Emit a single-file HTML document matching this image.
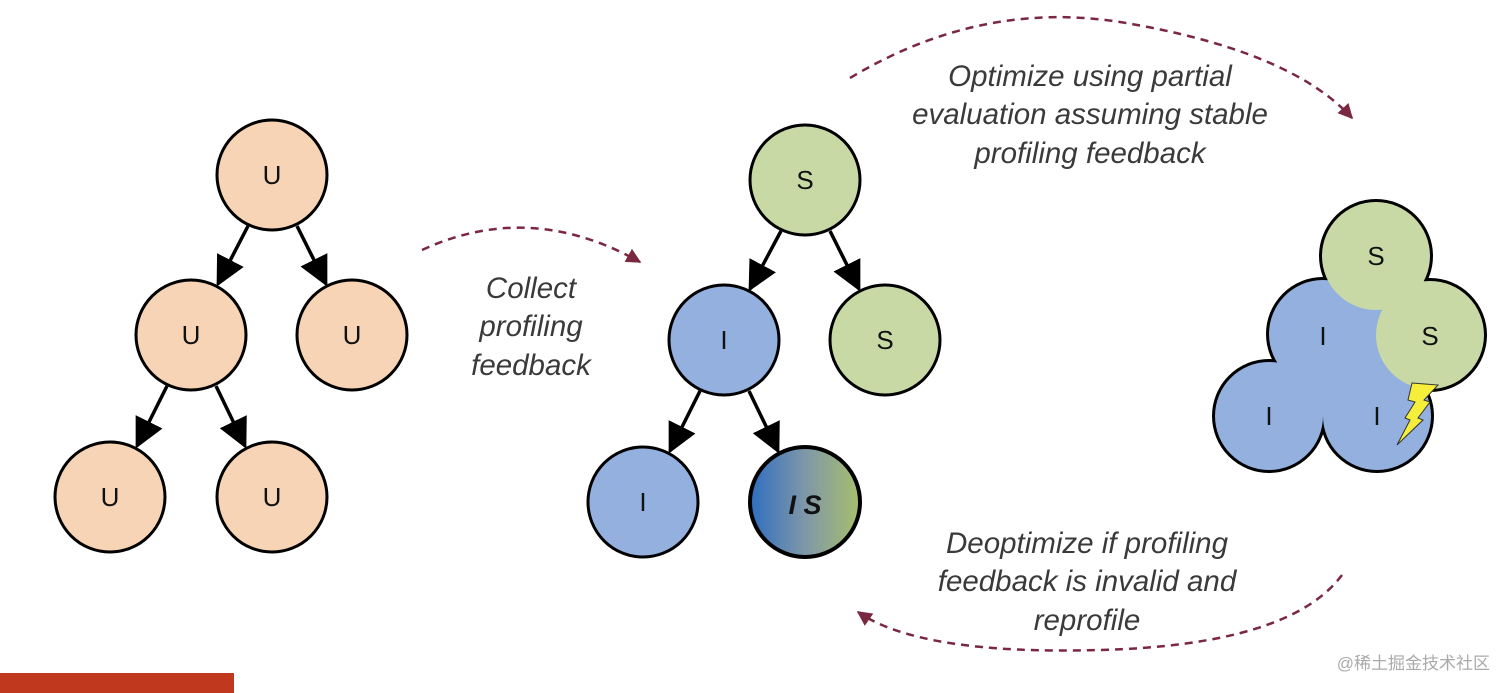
<!DOCTYPE html>
<html><head><style>
html,body{margin:0;padding:0;background:#fff;}
svg{display:block;}
text{font-family:"Liberation Sans",sans-serif;}
.t{font-style:italic;font-size:29.5px;fill:#3a3a3a;text-anchor:middle;}
.n{font-size:26px;fill:#111;text-anchor:middle;dominant-baseline:central;}
</style></head><body>
<svg width="1512" height="693" viewBox="0 0 1512 693" xmlns="http://www.w3.org/2000/svg">
<defs>
<marker id="a" viewBox="0 0 10 10" refX="9" refY="5" markerWidth="30" markerHeight="30" markerUnits="userSpaceOnUse" orient="auto"><path d="M0,0 L10,5 L0,10 z" fill="#000"/></marker>
<marker id="d" viewBox="0 0 10 10" refX="9" refY="5" markerWidth="15" markerHeight="15" markerUnits="userSpaceOnUse" orient="auto"><path d="M0,0 L10,5 L0,10 z" fill="#7a2840"/></marker>
<linearGradient id="g" x1="0" x2="1" y1="0" y2="0"><stop offset="0" stop-color="#2f6ec0"/><stop offset="0.5" stop-color="#7f97a8"/><stop offset="1" stop-color="#a7bf6c"/></linearGradient>
</defs>
<g stroke="#000" stroke-width="3">
<circle cx="272" cy="175" r="55" fill="#f6d4b5"/>
<circle cx="191" cy="335" r="55" fill="#f6d4b5"/>
<circle cx="352" cy="335" r="55" fill="#f6d4b5"/>
<circle cx="110" cy="497" r="55" fill="#f6d4b5"/>
<circle cx="272" cy="497" r="55" fill="#f6d4b5"/>
<circle cx="805" cy="180" r="55" fill="#c9d9a6"/>
<circle cx="724" cy="340" r="55" fill="#93b0de"/>
<circle cx="885" cy="340" r="55" fill="#c9d9a6"/>
<circle cx="643" cy="502" r="55" fill="#93b0de"/>
<circle cx="805" cy="502" r="55" fill="url(#g)" stroke-width="4"/>
</g>
<g stroke="#000" stroke-width="3.5" fill="none">
<line x1="248" y1="226" x2="218" y2="284" marker-end="url(#a)"/>
<line x1="297" y1="226" x2="326" y2="284" marker-end="url(#a)"/>
<line x1="167" y1="386" x2="137" y2="446" marker-end="url(#a)"/>
<line x1="216" y1="386" x2="245" y2="446" marker-end="url(#a)"/>
<line x1="781" y1="231" x2="750" y2="289" marker-end="url(#a)"/>
<line x1="830" y1="231" x2="859" y2="289" marker-end="url(#a)"/>
<line x1="700" y1="391" x2="670" y2="451" marker-end="url(#a)"/>
<line x1="749" y1="391" x2="778" y2="451" marker-end="url(#a)"/>
</g>
<text class="n" x="272" y="175">U</text>
<text class="n" x="191" y="335">U</text>
<text class="n" x="352" y="335">U</text>
<text class="n" x="110" y="497">U</text>
<text class="n" x="272" y="497">U</text>
<text class="n" x="805" y="180">S</text>
<text class="n" x="724" y="340">I</text>
<text class="n" x="885" y="340">S</text>
<text class="n" x="643" y="502">I</text>
<text class="n" x="805" y="505" style="font-style:italic;font-weight:bold;font-size:27px">I S</text>
<!-- cluster -->
<g stroke="#000" stroke-width="6">
<circle cx="1323" cy="334" r="54"/><circle cx="1269" cy="416" r="54"/><circle cx="1377" cy="416" r="54"/>
<circle cx="1376" cy="256" r="54"/><circle cx="1430" cy="335" r="54"/>
</g>
<g fill="#93b0de">
<circle cx="1323" cy="334" r="54"/><circle cx="1269" cy="416" r="54"/><circle cx="1377" cy="416" r="54"/>
<polygon points="1323,334 1269,416 1377,416 1430,335 1376,256"/>
</g>
<g fill="#c9d9a6">
<circle cx="1376" cy="256" r="54"/><circle cx="1430" cy="335" r="54"/>
</g>
<text class="n" x="1376" y="256">S</text>
<text class="n" x="1430" y="336">S</text>
<text class="n" x="1323" y="336">I</text>
<text class="n" x="1269" y="416">I</text>
<text class="n" x="1377" y="416">I</text>
<path d="M1412,383 L1438,385 L1424,400 L1430,402 L1418,418 L1423,420 L1397,445 L1410,420 L1405,418 L1415,402 L1408,400 z" fill="#f5ee3a" stroke="#333" stroke-width="1"/>
<!-- dashed arcs -->
<g fill="none" stroke="#7a2840" stroke-width="2.5" stroke-dasharray="8,6">
<path d="M422,250 Q530,200 640,262" marker-end="url(#d)"/>
<path d="M850,78 Q980,0 1120,22 Q1290,50 1352,118" marker-end="url(#d)"/>
<path d="M1342,575 Q1290,645 1100,650 Q920,655 858,612" marker-end="url(#d)"/>
</g>
<text class="t" x="531" y="298">Collect</text>
<text class="t" x="531" y="336">profiling</text>
<text class="t" x="531" y="375">feedback</text>
<text class="t" x="1090" y="86">Optimize using partial</text>
<text class="t" x="1090" y="124">evaluation assuming stable</text>
<text class="t" x="1090" y="163">profiling feedback</text>
<text class="t" x="1087" y="553">Deoptimize if profiling</text>
<text class="t" x="1087" y="591">feedback is invalid and</text>
<text class="t" x="1087" y="630">reprofile</text>
<rect x="0" y="673" width="234" height="20" fill="#c0391f"/>
<text x="1490" y="669" style="font-family:'Liberation Sans','Noto Sans CJK SC',sans-serif;font-size:17px;fill:#aaa;text-anchor:end">@稀土掘金技术社区</text>
</svg>
</body></html>
